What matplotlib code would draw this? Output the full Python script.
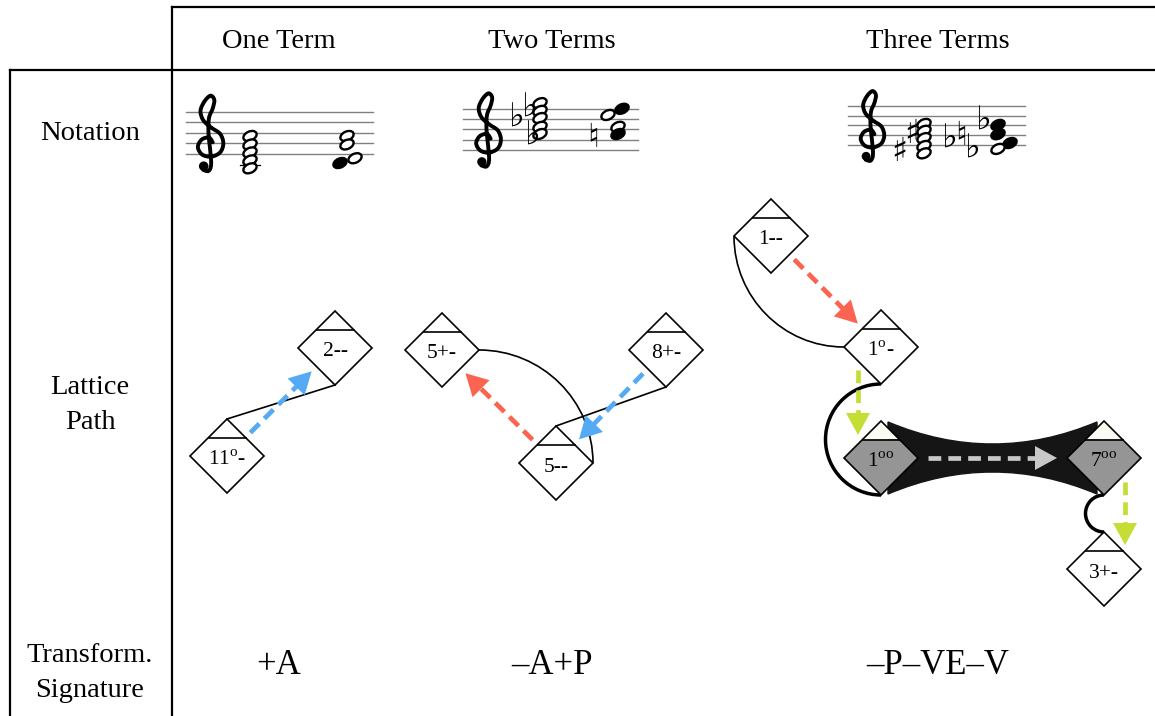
import matplotlib
matplotlib.use("Agg")
import matplotlib.pyplot as plt
from matplotlib.patches import Polygon, Ellipse, Arc, PathPatch, Circle
from matplotlib.path import Path
import numpy as np

plt.rcParams['font.family'] = ['Liberation Serif', 'DejaVu Serif']
plt.rcParams['mathtext.fontset'] = 'custom'
plt.rcParams['mathtext.rm'] = 'Liberation Serif'

# ---- table text
columns = ["One Term", "Two Terms", "Three Terms"]
rows = ["Notation", "Lattice\nPath", "Transform.\nSignature"]
signatures = ["+A", "–A+P", "–P–VE–V"]

# ---- notation: (step above bottom staff line, filled, x shift)
chords = [
    [[(3.4, False, 0), (1.8, False, 0), (0.3, False, 0), (-1.2, False, 0), (-2.7, False, 0)],
     [(3.4, False, 0), (1.8, False, 0), (-0.8, False, 8), (-1.7, True, -7)]],
    [[(9.1, False, 0), (7.6, False, 0), (6.2, False, 0), (4.5, False, 0), (3.1, False, 0)],
     [(8.0, True, 4), (6.8, False, -10), (4.5, False, 0), (3.1, True, 0)]],
    [[(4.3, False, 0), (2.9, False, 0), (1.4, False, 0), (-0.2, False, 0), (-1.7, False, 0)],
     [(4.1, True, 0), (2.2, True, 0), (0.4, True, 12), (-0.8, False, 0)]],
]
# accidentals: (symbol, step, x offset from chord)
accidentals = [
    [[], []],
    [[("♭", 6.4, -24), ("♭", 8.3, -11), ("♭", 2.9, -8)], [("♮", 2.5, -25)]],
    [[("♯", -1.4, -25), ("♯", 2.4, -12)],
     [("♭", 1.4, -49), ("♮", 2.0, -37), ("♭", -0.6, -26), ("♭", 5.1, -15)]],
]
ledgers = [[-2], [], []]

# ---- lattice nodes
node_labels = {
    "11o-": "11$^{\\mathrm{o}}$-", "2--": "2--",
    "5+-": "5+-", "8+-": "8+-", "5--": "5--",
    "1--": "1--", "1o-": "1$^{\\mathrm{o}}$-", "1oo": "1$^{\\mathrm{oo}}$",
    "7oo": "7$^{\\mathrm{oo}}$", "3+-": "3+-",
}
node_pos = {
    "11o-": (227, 456), "2--": (335, 348),
    "5+-": (442, 350), "8+-": (666, 350), "5--": (556, 463),
    "1--": (771, 236), "1o-": (881, 347), "1oo": (881, 458),
    "7oo": (1104, 458), "3+-": (1104, 569),
}
shaded = ["1oo", "7oo"]
# transformations: from, to, colour
moves = [
    ("11o-", "2--", "#55aaf5"), ("5--", "5+-", "#fa6450"), ("8+-", "5--", "#55aaf5"),
    ("1--", "1o-", "#fa6450"), ("1o-", "1oo", "#c6dd35"), ("1oo", "7oo", "#c8c8c8"),
    ("7oo", "3+-", "#c6dd35"),
]
move_offset = {("1o-", "1oo"): -23, ("7oo", "3+-"): 21}
move_shrink = {("1o-", "1oo"): 23, ("7oo", "3+-"): 24, ("1oo", "7oo"): 47}

# treble clef outline (staff-gap units, G line at 0, y up)
clef_pts = [(0.35, 0.1), (0.0, 0.55), (-0.7, 0.35), (-1.05, -0.35), (-0.65, -1.05), (0.2, -1.25),
            (1.05, -0.85), (1.35, 0.0), (1.05, 0.9), (0.2, 1.5), (-0.55, 2.2), (-0.8, 3.1),
            (-0.4, 4.0), (0.15, 4.5), (0.5, 4.1), (0.35, 3.3), (0.0, 2.4), (-0.05, 1.0),
            (0.1, -0.5), (0.2, -2.0), (-0.05, -2.6), (-0.55, -2.5)]

R = 37  # half diagonal of diamonds

fig = plt.figure(figsize=(11.55, 7.16), dpi=100)
ax = fig.add_axes([0, 0, 1, 1])
ax.set_xlim(0, 1155)
ax.set_ylim(716, 0)
ax.axis('off')

# table frame
lw_t = 1.6
ax.plot([172, 1155], [7, 7], color='k', lw=lw_t)
ax.plot([172, 172], [7, 716], color='k', lw=lw_t)
ax.plot([10, 1155], [70, 70], color='k', lw=lw_t)
ax.plot([10, 10], [70, 716], color='k', lw=lw_t)

col_x = [279, 552, 938]
for x, c in zip(col_x, columns):
    ax.text(x, 42, c, ha='center', va='center', fontsize=20.5)
for y, r in zip([133, 405, 673], rows):
    ax.text(90, y, r, ha='center', va='center', fontsize=20.5, linespacing=1.5)
for x, s in zip(col_x, signatures):
    ax.text(x, 665, s, ha='center', va='center', fontsize=25)


def smooth(pts):
    p = np.array(pts, float)
    p = np.vstack([p[0], p, p[-1]])
    verts, codes = [p[1]], [Path.MOVETO]
    for i in range(1, len(p) - 2):
        c1 = p[i] + (p[i + 1] - p[i - 1]) / 6
        c2 = p[i + 1] - (p[i + 2] - p[i]) / 6
        verts += [c1, c2, p[i + 1]]
        codes += [Path.CURVE4] * 3
    return Path(verts, codes)


def clef(x, yg, g):
    pts = [(x + px * g, yg - py * g) for px, py in clef_pts]
    ax.add_patch(PathPatch(smooth(pts), fc='none', ec='k', lw=2.8, capstyle='round', zorder=3))
    ax.add_patch(Circle((x - 0.5 * g, yg + 2.15 * g), 0.45 * g, fc='k', ec='none', zorder=3))


# staves
staff_x = [(186, 373), (463, 638), (848, 1025)]
staff_bottom = [154, 150, 145]
staff_gap = [10.6, 10.3, 9.8]
chord_x = [(250, 347), (540, 618), (924, 998)]
clef_x = [209, 487, 871]
for i in range(3):
    x0, x1 = staff_x[i]
    yb, g = staff_bottom[i], staff_gap[i]
    for k in range(5):
        ax.plot([x0, x1], [yb - k * g, yb - k * g], color='#808080', lw=1.0, zorder=1)
    clef(clef_x[i], yb - g, g)
    for st in ledgers[i]:
        cx = chord_x[i][0]
        ax.plot([cx - 10, cx + 10], [yb - st * g / 2] * 2, color='k', lw=0.9, zorder=1)
    for j, chord in enumerate(chords[i]):
        cx = chord_x[i][j]
        for st, filled, sh in chord:
            e = Ellipse((cx + sh, yb - st * g / 2), 14, 9, angle=-25,
                        fc='k' if filled else 'white', ec='k', lw=1.7, zorder=3)
            ax.add_patch(e)
        for sym, st, dx in accidentals[i][j]:
            ax.text(cx + dx, yb - st * g / 2, sym, ha='center', va='center', fontsize=24,
                    family=['DejaVu Sans'], zorder=3)


# connections
def corner(name, side):
    x, y = node_pos[name]
    return {"top": (x, y - R), "bottom": (x, y + R), "left": (x - R, y), "right": (x + R, y)}[side]


def line(a, b, lw=1.2):
    ax.plot([a[0], b[0]], [a[1], b[1]], color='k', lw=lw, zorder=1)


def quarter(a, b, c, lw=1.2):
    k = 0.5523
    a, b, c = map(np.array, (a, b, c))
    verts = [a, a + k * (c - a), b + k * (c - b), b]
    ax.add_patch(PathPatch(Path(verts, [Path.MOVETO, Path.CURVE4, Path.CURVE4, Path.CURVE4]),
                           fc='none', ec='k', lw=lw, zorder=1))


def loop(a, b, lw=2.5):
    cx, cy = (a[0] + b[0]) / 2, (a[1] + b[1]) / 2
    r = abs(b[1] - a[1])
    ax.add_patch(Arc((cx, cy), r, r, theta1=90, theta2=270, ec='k', lw=lw, zorder=1))


line(corner("11o-", "top"), corner("2--", "bottom"))
line(corner("5--", "top"), corner("8+-", "bottom"))
a, b = corner("5+-", "right"), corner("5--", "right")
quarter(a, b, (b[0], a[1]))
a, b = corner("1--", "left"), corner("1o-", "left")
quarter(a, b, (a[0], b[1]))
loop(corner("1o-", "bottom"), corner("1oo", "bottom"))
loop(corner("7oo", "bottom"), corner("3+-", "top"))

# black band between shaded nodes
(x1, y1), (x2, y2) = node_pos["1oo"], node_pos["7oo"]
l, r_ = x1 + 7, x2 - 7
top, bot = y1 - R + 1, y1 + R - 1
band = Path([(l, top), ((l + r_) / 2, top + 44), (r_, top), (r_, bot), ((l + r_) / 2, bot - 44), (l, bot), (l, top)],
            [Path.MOVETO, Path.CURVE3, Path.CURVE3, Path.LINETO, Path.CURVE3, Path.CURVE3, Path.CLOSEPOLY])
ax.add_patch(PathPatch(band, fc='#151515', ec='#151515', lw=1, zorder=1.5))

# diamonds
for name, (x, y) in node_pos.items():
    if name in shaded:
        ax.add_patch(Polygon([(x, y - R), (x + R / 2, y - R / 2), (x - R / 2, y - R / 2)], fc='#fbfbf3', ec='none', zorder=2))
        ax.add_patch(Polygon([(x - R / 2, y - R / 2), (x + R / 2, y - R / 2), (x + R, y), (x, y + R), (x - R, y)],
                             fc='#959595', ec='none', zorder=2))
        ax.add_patch(Polygon([(x, y - R), (x + R, y), (x, y + R), (x - R, y)], fc='none', ec='k', lw=1.2, zorder=2.1))
    else:
        ax.add_patch(Polygon([(x, y - R), (x + R, y), (x, y + R), (x - R, y)], fc='white', ec='k', lw=1.2, zorder=2))
    ax.plot([x - R / 2, x + R / 2], [y - R / 2, y - R / 2], color='k', lw=1.2, zorder=2.2)
    ax.text(x, y + 4, node_labels[name], ha='center', va='center', fontsize=15.5, zorder=3)


# transformation arrows
def arrow(p0, p1, color, lw=3.4, hl=22, hw=12):
    p0, p1 = np.array(p0, float), np.array(p1, float)
    d = p1 - p0
    u = d / np.hypot(*d)
    n = np.array([-u[1], u[0]])
    base = p1 - u * hl
    e = base + u * 2
    ax.plot([p0[0], e[0]], [p0[1], e[1]], color=color, lw=lw, ls=(0, (2.7, 1.5)),
            dash_capstyle='butt', zorder=4)
    ax.add_patch(Polygon([p1, base + n * hw, base - n * hw], closed=True, fc=color, ec='none', zorder=4))


for a_, b_, col in moves:
    pa, pb = np.array(node_pos[a_], float), np.array(node_pos[b_], float)
    d = pb - pa
    u = d / np.hypot(*d)
    off = move_offset.get((a_, b_), 0)
    s = move_shrink.get((a_, b_), 33)
    shift = np.array([off, 0.0])
    arrow(pa + u * s + shift, pb - u * s + shift, col)

fig.savefig("out.png", dpi=100)
